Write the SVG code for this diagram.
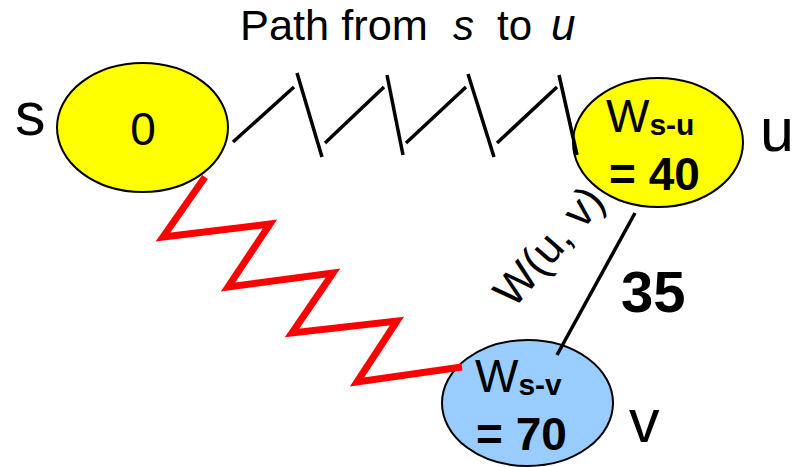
<svg xmlns="http://www.w3.org/2000/svg" width="804" height="467" viewBox="0 0 804 467">
<style>
.node{stroke:#000;stroke-width:2}
.t{font-family:"Liberation Sans",Arial,sans-serif;fill:#000}
.b{font-weight:bold}
.zig{fill:none;stroke:#000;stroke-width:3.5}
.red{fill:none;stroke:#f00;stroke-width:7;stroke-linejoin:miter}
</style>
<rect width="804" height="467" fill="#fff"/>
<g class="t" font-size="42">
<text x="240" y="40" textLength="188" lengthAdjust="spacingAndGlyphs">Path from</text>
<text x="453" y="40" font-style="italic">s</text>
<text x="497" y="40">to</text>
<text x="551" y="40" font-style="italic" font-size="44">u</text>
</g>
<g id="node-s">
<ellipse class="node" cx="142.5" cy="127.5" rx="85.5" ry="64.5" fill="#ffff00"/>
<text class="t" x="143" y="145" font-size="46" text-anchor="middle">0</text>
<text class="t" x="15" y="135" font-size="61">s</text>
</g>
<g id="node-u">
<ellipse class="node" cx="658" cy="142.5" rx="85" ry="64.5" fill="#ffff00"/>
<text class="t" x="606" y="132" font-size="46">W<tspan class="b" font-size="30" dy="3">s-u</tspan></text>
<text class="t b" x="609" y="190" font-size="46">= 40</text>
<text class="t" x="760" y="151" font-size="61">u</text>
</g>
<g id="node-v">
<ellipse class="node" cx="527.5" cy="403" rx="85.5" ry="63" fill="#99ccff"/>
<text class="t" x="475" y="392" font-size="46">W<tspan class="b" font-size="30" dy="3">s-v</tspan></text>
<text class="t b" x="476" y="450" font-size="46">= 70</text>
<text class="t" x="629" y="442" font-size="61">v</text>
</g>
<g id="connectors">
<g class="zig">
<line x1="233" y1="142" x2="294" y2="87"/>
<line x1="297" y1="73" x2="322" y2="157"/>
<line x1="325" y1="143" x2="384" y2="87"/>
<line x1="387" y1="75" x2="403" y2="155"/>
<line x1="406" y1="143" x2="466" y2="87"/>
<line x1="468" y1="74" x2="494" y2="157"/>
<line x1="497" y1="143" x2="557" y2="87"/>
<line x1="559" y1="75" x2="577" y2="155"/>
</g>
<polyline class="red" points="205,177 163,237 270,224 228,287 333,273 292,333 397,321 357,382 462,367"/>
<line x1="635" y1="213" x2="557" y2="355" stroke="#000" stroke-width="3.5"/>
</g>
<text class="t" transform="translate(560,256) rotate(-49)" font-size="44" text-anchor="middle">W(u, v)</text>
<text class="t b" x="621" y="312" font-size="58">35</text>
</svg>
